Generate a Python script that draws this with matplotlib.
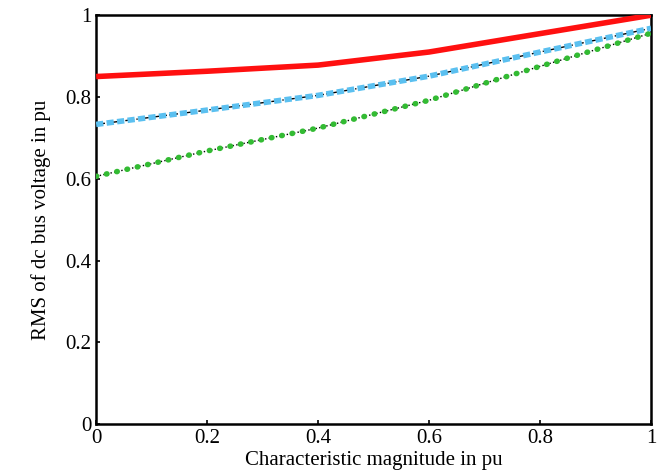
import numpy as np
import matplotlib.pyplot as plt

# values
x = [0, 0.2, 0.4, 0.6, 0.8, 1.0]
red_v = [0.850, 0.863, 0.878, 0.910, 0.955, 1.0]
blue_v = [0.733, 0.768, 0.804, 0.851, 0.910, 0.968]
green_v = [0.606, 0.668, 0.724, 0.792, 0.875, 0.956]

xticks = [0, 0.2, 0.4, 0.6, 0.8, 1]
xlabels = ['0', '0.2', '0.4', '0.6', '0.8', '1']
yticks = [0, 0.2, 0.4, 0.6, 0.8, 1]
ylabels = ['0', '0.2', '0.4', '0.6', '0.8', '1']

plt.rcParams['font.family'] = 'Liberation Serif'

fig = plt.figure(figsize=(6.63, 4.75), dpi=100)
ax = fig.add_axes([0.145, 0.107, 0.837, 0.861])

# original black traces under the coloured ones
ax.plot(x, red_v, color='black', lw=1.2, zorder=2)
ax.plot(x, blue_v, color='black', lw=1.0, ls='-.', zorder=2)
ax.plot(x, green_v, color='black', lw=1.0, ls=':', zorder=2)

ax.plot(x, red_v, color='#ff1010', lw=4, solid_capstyle='butt', zorder=3)
ax.plot(x, blue_v, color='#5bc0f0', lw=4, ls=(0, (1.3, 0.6)), zorder=3)
ax.plot(x, green_v, color='#33bb33', lw=4, ls=(0, (0.1, 1.8)),
        dash_capstyle='round', zorder=3)

ax.set_xlim(0, 1)
ax.set_ylim(0, 1)
ax.set_xticks(xticks)
ax.set_xticklabels(xlabels)
ax.set_yticks(yticks)
ax.set_yticklabels(ylabels)
ax.tick_params(direction='in', length=3, labelsize=15, width=1.2)
for s in ax.spines.values():
    s.set_linewidth(1.8)

ax.set_xlabel('Characteristic magnitude in pu', fontsize=15, labelpad=2)
ax.set_ylabel('RMS of dc bus voltage in pu', fontsize=15, labelpad=10)

plt.savefig('out.png', dpi=100)
